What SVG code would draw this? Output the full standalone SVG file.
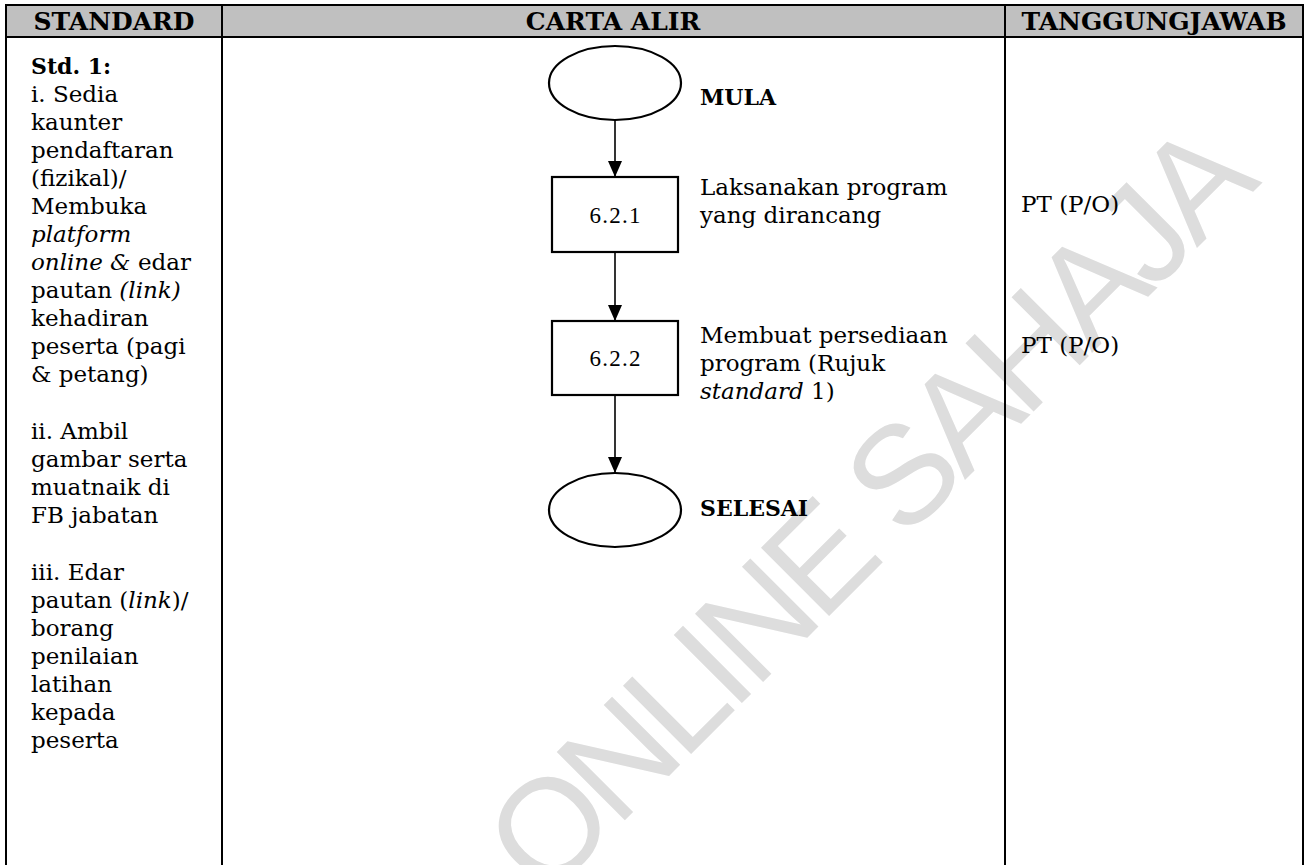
<svg xmlns="http://www.w3.org/2000/svg" width="1311" height="865" viewBox="0 0 1311 865">
<defs>
<style>
.grid{stroke:#000;stroke-width:2;fill:none}
.hdr{fill:#c0c0c0}
.ht{font-family:"DejaVu Serif",serif;font-weight:bold;font-size:25px;fill:#000;text-anchor:middle}
.bt{font-family:"DejaVu Serif",serif;font-size:23px;fill:#000}
.bb{font-family:"DejaVu Serif",serif;font-weight:bold;font-size:22px;fill:#000}
.num{font-family:"Liberation Serif",serif;font-size:23px;fill:#000;text-anchor:middle}
.it{font-style:italic}
.shape{fill:#fff;stroke:#000;stroke-width:2.2}
.conn{stroke:#000;stroke-width:1.6;fill:none;marker-end:url(#arr)}
.wm{font-family:"Liberation Sans",Arial,sans-serif;font-size:140px;fill:#dddddd}
</style>
<marker id="arr" viewBox="0 0 16 14" refX="16" refY="7" markerWidth="16" markerHeight="14" markerUnits="userSpaceOnUse" orient="auto">
<path d="M0,0 L16,7 L0,14 z" fill="#000"/>
</marker>
</defs>
<rect x="0" y="0" width="1311" height="865" fill="#fff"/>
<g id="watermark">
<text class="wm" x="545" y="900" textLength="1015" lengthAdjust="spacing" transform="rotate(-45 545 900)">ONLINE SAHAJA</text>
</g>
<g id="table">
<rect class="hdr" x="6" y="5" width="1297" height="32"/>
<line class="grid" x1="6" y1="5" x2="1303" y2="5"/>
<line class="grid" x1="6" y1="37" x2="1303" y2="37"/>
<line class="grid" x1="6" y1="4" x2="6" y2="865"/>
<line class="grid" x1="222" y1="4" x2="222" y2="865"/>
<line class="grid" x1="1005" y1="4" x2="1005" y2="865"/>
<line class="grid" x1="1303" y1="4" x2="1303" y2="865"/>
<text class="ht" x="114" y="30">STANDARD</text>
<text class="ht" x="613" y="30">CARTA ALIR</text>
<text class="ht" x="1154" y="30">TANGGUNGJAWAB</text>
</g>
<g id="standard-text">
<text class="bb" x="31" y="74">Std. 1:</text>
<text class="bt" x="31" y="102">i. Sedia</text>
<text class="bt" x="31" y="130">kaunter</text>
<text class="bt" x="31" y="158">pendaftaran</text>
<text class="bt" x="31" y="186">(fizikal)/</text>
<text class="bt" x="31" y="214">Membuka</text>
<text class="bt it" x="31" y="242">platform</text>
<text class="bt" x="31" y="270"><tspan class="it">online &amp;</tspan> edar</text>
<text class="bt" x="31" y="298">pautan <tspan class="it">(link)</tspan></text>
<text class="bt" x="31" y="326">kehadiran</text>
<text class="bt" x="31" y="354">peserta (pagi</text>
<text class="bt" x="31" y="382">&amp; petang)</text>
<text class="bt" x="31" y="439">ii. Ambil</text>
<text class="bt" x="31" y="467">gambar serta</text>
<text class="bt" x="31" y="495">muatnaik di</text>
<text class="bt" x="31" y="523">FB jabatan</text>
<text class="bt" x="31" y="580">iii. Edar</text>
<text class="bt" x="31" y="608">pautan (<tspan class="it">link</tspan>)/</text>
<text class="bt" x="31" y="636">borang</text>
<text class="bt" x="31" y="664">penilaian</text>
<text class="bt" x="31" y="692">latihan</text>
<text class="bt" x="31" y="720">kepada</text>
<text class="bt" x="31" y="748">peserta</text>
</g>
<g id="connectors">
<line class="conn" x1="615" y1="120" x2="615" y2="177"/>
<line class="conn" x1="615" y1="252" x2="615" y2="321"/>
<line class="conn" x1="615" y1="395" x2="615" y2="473"/>
</g>
<g id="node-mula">
<ellipse class="shape" cx="615" cy="83" rx="66" ry="37"/>
<text class="bb" x="700" y="105">MULA</text>
</g>
<g id="node-621">
<rect class="shape" x="552" y="177" width="126" height="75"/>
<text class="num" x="615" y="223" textLength="51" lengthAdjust="spacing">6.2.1</text>
<text class="bt" x="700" y="195">Laksanakan program</text>
<text class="bt" x="700" y="223">yang dirancang</text>
</g>
<g id="node-622">
<rect class="shape" x="552" y="321" width="126" height="74"/>
<text class="num" x="615" y="366" textLength="51" lengthAdjust="spacing">6.2.2</text>
<text class="bt" x="700" y="343">Membuat persediaan</text>
<text class="bt" x="700" y="371">program (Rujuk</text>
<text class="bt" x="700" y="399"><tspan class="it">standard</tspan> 1)</text>
</g>
<g id="node-selesai">
<ellipse class="shape" cx="615" cy="510" rx="66" ry="37"/>
<text class="bb" x="700" y="516">SELESAI</text>
</g>
<g id="tanggungjawab-text">
<text class="bt" x="1021" y="212">PT (P/O)</text>
<text class="bt" x="1021" y="353">PT (P/O)</text>
</g>
</svg>
